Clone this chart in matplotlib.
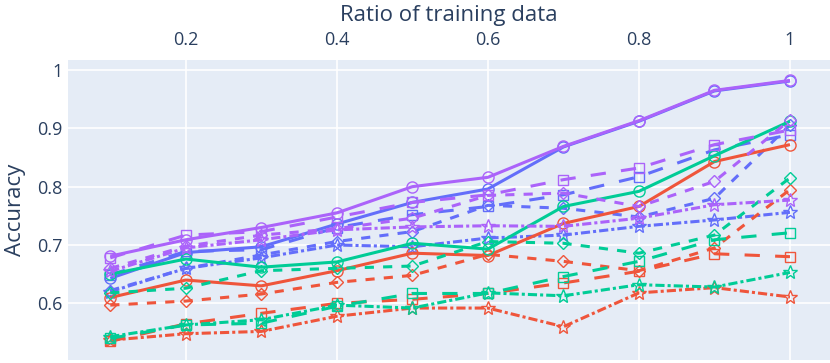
import matplotlib.pyplot as plt

# x values: ratio of training data
ratios = [0.1, 0.2, 0.3, 0.4, 0.5, 0.6, 0.7, 0.8, 0.9, 1.0]

# accuracy per series, named by colour + style
blue_solid = [0.643, 0.687, 0.697, 0.736, 0.773, 0.796, 0.868, 0.912, 0.964, 0.981]
blue_longdash = [0.649, 0.689, 0.692, 0.730, 0.752, 0.766, 0.786, 0.817, 0.863, 0.889]
blue_dash = [0.622, 0.660, 0.683, 0.706, 0.723, 0.768, 0.763, 0.748, 0.780, 0.906]
blue_dashdot = [0.620, 0.660, 0.678, 0.700, 0.697, 0.712, 0.717, 0.732, 0.743, 0.756]

red_solid = [0.610, 0.640, 0.630, 0.656, 0.686, 0.682, 0.737, 0.766, 0.843, 0.872]
red_longdash = [0.535, 0.565, 0.583, 0.600, 0.607, 0.617, 0.635, 0.655, 0.685, 0.680]
red_dash = [0.597, 0.604, 0.616, 0.636, 0.648, 0.684, 0.672, 0.656, 0.695, 0.795]
red_dashdot = [0.537, 0.548, 0.552, 0.578, 0.592, 0.592, 0.560, 0.618, 0.627, 0.611]

green_solid = [0.650, 0.676, 0.662, 0.671, 0.703, 0.693, 0.766, 0.792, 0.853, 0.912]
green_longdash = [0.540, 0.563, 0.566, 0.595, 0.617, 0.617, 0.646, 0.672, 0.709, 0.721]
green_dash = [0.618, 0.626, 0.656, 0.660, 0.664, 0.706, 0.703, 0.686, 0.717, 0.815]
green_dashdot = [0.543, 0.563, 0.572, 0.597, 0.592, 0.618, 0.613, 0.632, 0.628, 0.653]

purple_solid = [0.681, 0.709, 0.730, 0.755, 0.800, 0.816, 0.869, 0.913, 0.965, 0.982]
purple_longdash = [0.678, 0.717, 0.723, 0.748, 0.773, 0.786, 0.812, 0.832, 0.872, 0.897]
purple_dash = [0.660, 0.698, 0.717, 0.728, 0.746, 0.785, 0.789, 0.766, 0.809, 0.914]
purple_dashdot = [0.655, 0.695, 0.709, 0.726, 0.731, 0.733, 0.732, 0.746, 0.769, 0.777]

colors = {'blue': '#636efa', 'red': '#EF553B', 'green': '#00cc96', 'purple': '#ab63fa'}
# line style -> (dash pattern, marker, marker size)
styles = {
    'solid': (None, 'o', 8),
    'longdash': ((5, 5), 's', 7.5),
    'dash': ((3, 3), 'D', 6.5),
    'dashdot': ((3, 1, 1, 1), '*', 10),
}

series = {
    ('blue', 'solid'): blue_solid, ('blue', 'longdash'): blue_longdash,
    ('blue', 'dash'): blue_dash, ('blue', 'dashdot'): blue_dashdot,
    ('red', 'solid'): red_solid, ('red', 'longdash'): red_longdash,
    ('red', 'dash'): red_dash, ('red', 'dashdot'): red_dashdot,
    ('green', 'solid'): green_solid, ('green', 'longdash'): green_longdash,
    ('green', 'dash'): green_dash, ('green', 'dashdot'): green_dashdot,
    ('purple', 'solid'): purple_solid, ('purple', 'longdash'): purple_longdash,
    ('purple', 'dash'): purple_dash, ('purple', 'dashdot'): purple_dashdot,
}

plt.rcParams['font.family'] = ['Open Sans', 'DejaVu Sans']
text_color = '#2a3f5f'

fig = plt.figure(figsize=(8.3, 3.63), dpi=100)
ax = fig.add_axes([68 / 830, 3 / 363, 762 / 830, 300 / 363])
ax.set_facecolor('#E5ECF6')

for (cname, sname), vals in series.items():
    dash, marker, ms = styles[sname]
    line, = ax.plot(ratios, vals, color=colors[cname], lw=2.2, marker=marker,
                    markersize=ms, markerfacecolor='none', markeredgewidth=1.0,
                    solid_capstyle='butt', dash_capstyle='butt')
    if dash is not None:
        line.set_dashes(dash)

ax.set_xlim(0.044, 1.053)
ax.set_ylim(0.503, 1.017)
ax.set_xticks([0.2, 0.4, 0.6, 0.8, 1.0])
ax.set_xticklabels(['0.2', '0.4', '0.6', '0.8', '1'])
ax.set_yticks([0.6, 0.7, 0.8, 0.9, 1.0])
ax.set_yticklabels(['0.6', '0.7', '0.8', '0.9', '1'])
ax.xaxis.tick_top()
ax.xaxis.set_label_position('top')
ax.grid(True, color='white', lw=1.2)
ax.set_axisbelow(True)
for s in ax.spines.values():
    s.set_visible(False)
ax.tick_params(axis='x', length=0, labelsize=13, colors=text_color, pad=8)
ax.tick_params(axis='y', length=0, labelsize=13, colors=text_color, pad=4)
ax.set_xlabel('Ratio of training data', fontsize=16, color=text_color, labelpad=7)
ax.set_ylabel('Accuracy', fontsize=16, color=text_color, labelpad=8)

fig.savefig('out.png', dpi=100)
